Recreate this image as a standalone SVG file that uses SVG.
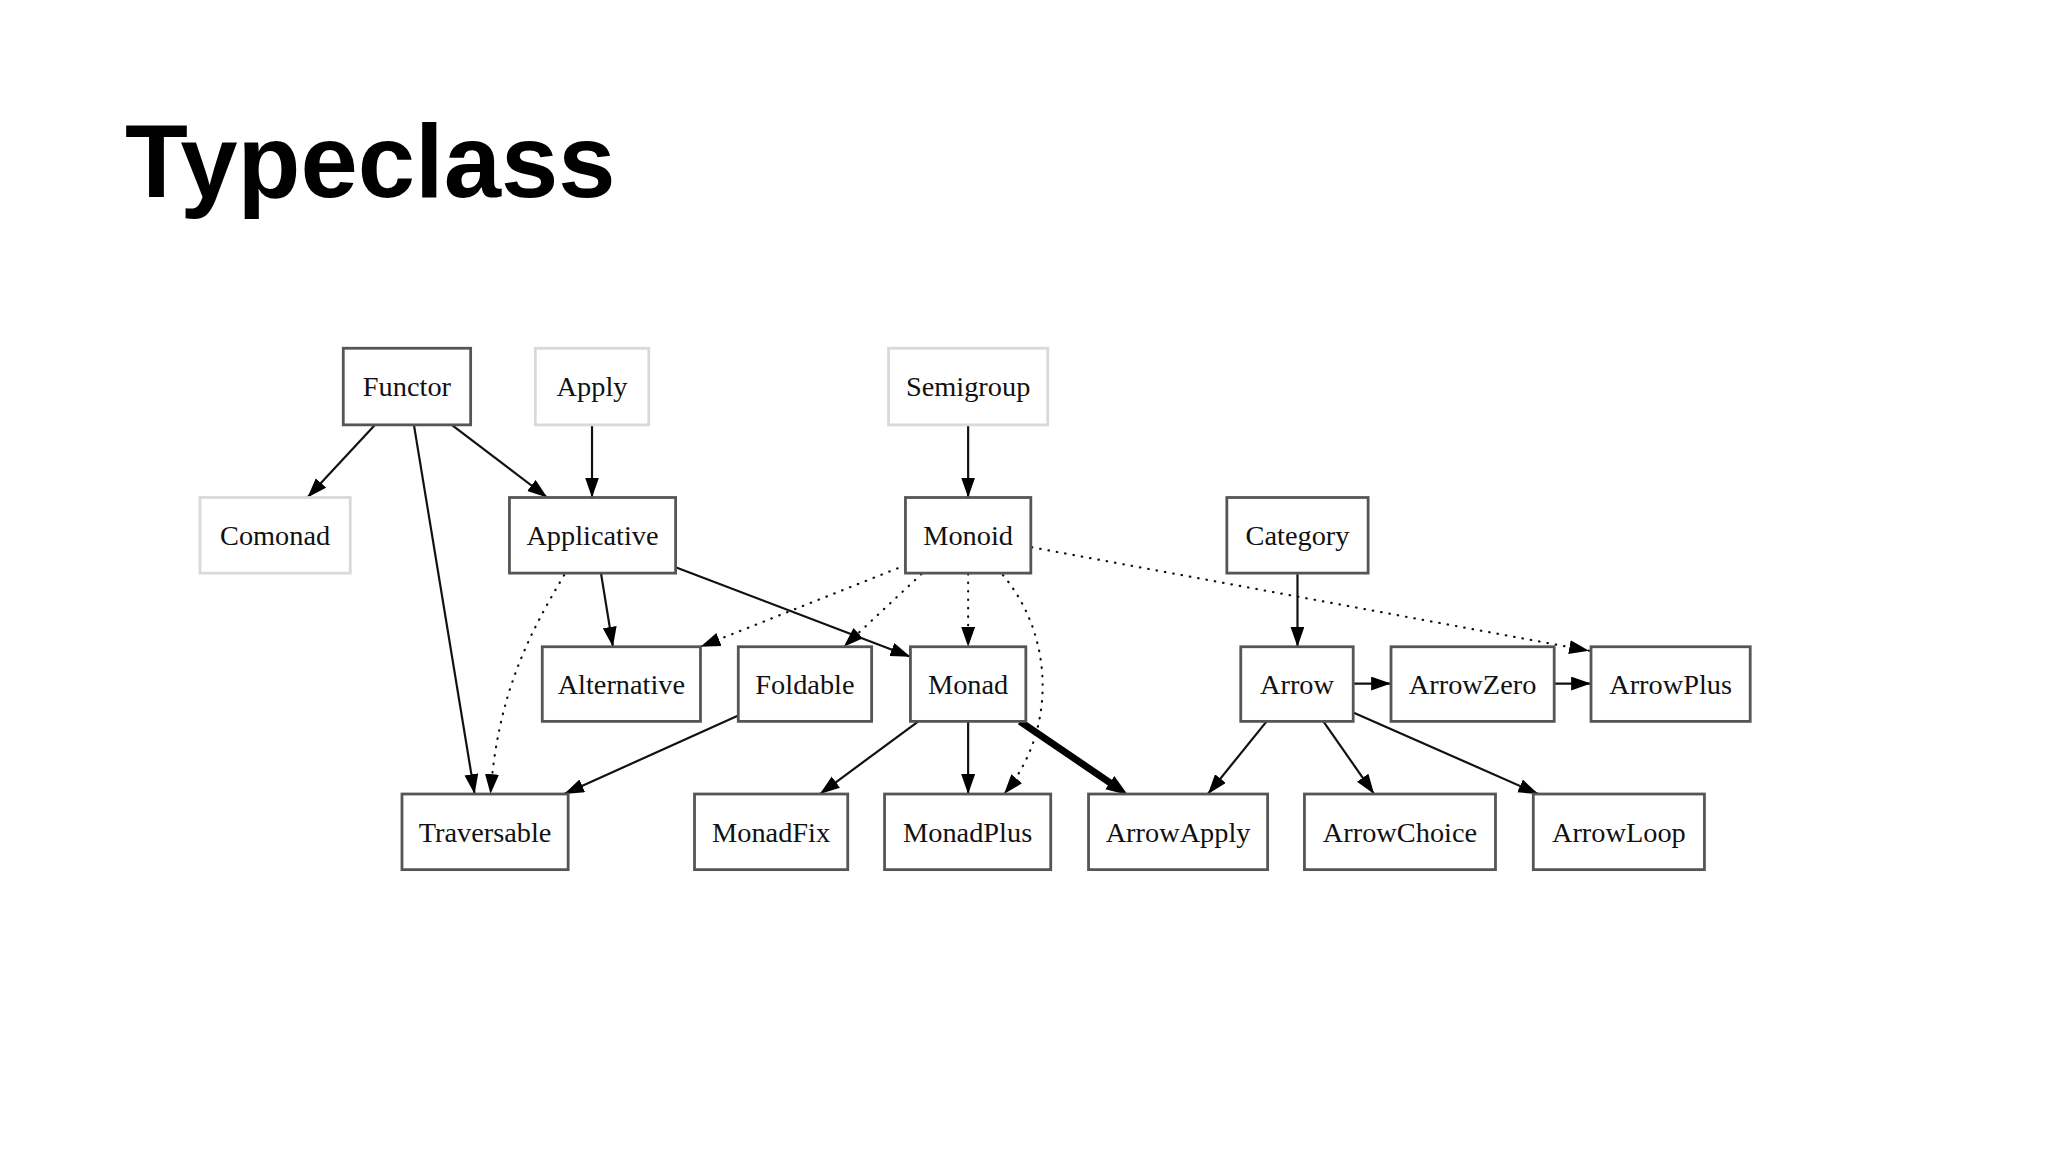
<svg xmlns="http://www.w3.org/2000/svg" width="2048" height="1152" viewBox="0 0 2048 1152">
<style>
.bg{fill:#ffffff}
.title{font-family:"Liberation Sans",Arial,sans-serif;font-weight:bold;font-size:103px;fill:#000}
.box{fill:#fff;stroke:#555;stroke-width:2.8}
.box.light{stroke:#d9d9d9}
.lbl{font-family:"Liberation Serif","Times New Roman",serif;font-size:28.5px;fill:#111;text-anchor:middle}
.e{fill:none;stroke:#111;stroke-width:2.2}
.d{fill:none;stroke:#111;stroke-width:2.2;stroke-dasharray:0.5 8;stroke-linecap:round}
.thick{fill:none;stroke:#000;stroke-width:7}
</style>
<defs>
<marker id="ah" markerUnits="userSpaceOnUse" markerWidth="22" markerHeight="16" refX="20" refY="7" orient="auto">
<path d="M0,0 L20,7 L0,14 z" fill="#000"/>
</marker>
<marker id="ahT" markerUnits="userSpaceOnUse" markerWidth="24" markerHeight="18" refX="8" refY="8" orient="auto">
<path d="M0,0 L22,8 L0,16 z" fill="#000"/>
</marker>
</defs>
<rect class="bg" x="0" y="0" width="2048" height="1152"/>
<text class="title" x="125" y="197">Typeclass</text>
<g id="diagram" transform="scale(0.995)">
<g id="connectors">
<line class="e" x1="377" y1="427" x2="309" y2="500" marker-end="url(#ah)"/>
<line class="e" x1="416" y1="427" x2="477" y2="798" marker-end="url(#ah)"/>
<line class="e" x1="454" y1="427" x2="550" y2="500" marker-end="url(#ah)"/>
<line class="e" x1="595" y1="427" x2="595" y2="500" marker-end="url(#ah)"/>
<line class="e" x1="973" y1="427" x2="973" y2="500" marker-end="url(#ah)"/>
<line class="e" x1="604" y1="576" x2="616" y2="650" marker-end="url(#ah)"/>
<line class="e" x1="679" y1="570" x2="915" y2="660" marker-end="url(#ah)"/>
<path class="d" d="M567,578 C530,640 500,700 493,798" marker-end="url(#ah)"/>
<line class="d" x1="910" y1="568" x2="704" y2="650" marker-end="url(#ah)"/>
<line class="d" x1="926" y1="577" x2="848" y2="650" marker-end="url(#ah)"/>
<line class="d" x1="973" y1="577" x2="973" y2="650" marker-end="url(#ah)"/>
<path class="d" d="M1008,578 C1060,640 1062,735 1009,798" marker-end="url(#ah)"/>
<line class="d" x1="1037" y1="550" x2="1597" y2="654" marker-end="url(#ah)"/>
<line class="e" x1="1304" y1="577" x2="1304" y2="650" marker-end="url(#ah)"/>
<line class="e" x1="742" y1="719" x2="567" y2="798" marker-end="url(#ah)"/>
<line class="e" x1="923" y1="725" x2="824" y2="798" marker-end="url(#ah)"/>
<line class="e" x1="973" y1="725" x2="973" y2="798" marker-end="url(#ah)"/>
<line class="thick" x1="1025" y1="725" x2="1122" y2="791" marker-end="url(#ahT)"/>
<line class="e" x1="1360" y1="687" x2="1398" y2="687" marker-end="url(#ah)"/>
<line class="e" x1="1562" y1="687" x2="1599" y2="687" marker-end="url(#ah)"/>
<line class="e" x1="1273" y1="725" x2="1214" y2="798" marker-end="url(#ah)"/>
<line class="e" x1="1330" y1="725" x2="1381" y2="798" marker-end="url(#ah)"/>
<line class="e" x1="1360" y1="716" x2="1546" y2="798" marker-end="url(#ah)"/>
</g>
<g id="Functor"><rect class="box" x="345" y="350" width="128" height="77"/><text class="lbl" x="409" y="398">Functor</text></g>
<g id="Apply"><rect class="box light" x="538" y="350" width="114" height="77"/><text class="lbl" x="595" y="398">Apply</text></g>
<g id="Semigroup"><rect class="box light" x="893" y="350" width="160" height="77"/><text class="lbl" x="973" y="398">Semigroup</text></g>
<g id="Comonad"><rect class="box light" x="201" y="500" width="151" height="76"/><text class="lbl" x="276.5" y="548">Comonad</text></g>
<g id="Applicative"><rect class="box" x="512" y="500" width="167" height="76"/><text class="lbl" x="595.5" y="548">Applicative</text></g>
<g id="Monoid"><rect class="box" x="910" y="500" width="126" height="76"/><text class="lbl" x="973" y="548">Monoid</text></g>
<g id="Category"><rect class="box" x="1233" y="500" width="142" height="76"/><text class="lbl" x="1304" y="548">Category</text></g>
<g id="Alternative"><rect class="box" x="545" y="650" width="159" height="75"/><text class="lbl" x="624.5" y="697">Alternative</text></g>
<g id="Foldable"><rect class="box" x="742" y="650" width="134" height="75"/><text class="lbl" x="809" y="697">Foldable</text></g>
<g id="Monad"><rect class="box" x="915" y="650" width="116" height="75"/><text class="lbl" x="973" y="697">Monad</text></g>
<g id="Arrow"><rect class="box" x="1247" y="650" width="113" height="75"/><text class="lbl" x="1303.5" y="697">Arrow</text></g>
<g id="ArrowZero"><rect class="box" x="1398" y="650" width="164" height="75"/><text class="lbl" x="1480" y="697">ArrowZero</text></g>
<g id="ArrowPlus"><rect class="box" x="1599" y="650" width="160" height="75"/><text class="lbl" x="1679" y="697">ArrowPlus</text></g>
<g id="Traversable"><rect class="box" x="404" y="798" width="167" height="76"/><text class="lbl" x="487.5" y="846">Traversable</text></g>
<g id="MonadFix"><rect class="box" x="698" y="798" width="154" height="76"/><text class="lbl" x="775" y="846">MonadFix</text></g>
<g id="MonadPlus"><rect class="box" x="889" y="798" width="167" height="76"/><text class="lbl" x="972.5" y="846">MonadPlus</text></g>
<g id="ArrowApply"><rect class="box" x="1094" y="798" width="180" height="76"/><text class="lbl" x="1184" y="846">ArrowApply</text></g>
<g id="ArrowChoice"><rect class="box" x="1311" y="798" width="192" height="76"/><text class="lbl" x="1407" y="846">ArrowChoice</text></g>
<g id="ArrowLoop"><rect class="box" x="1541" y="798" width="172" height="76"/><text class="lbl" x="1627" y="846">ArrowLoop</text></g>
</g>
</svg>
